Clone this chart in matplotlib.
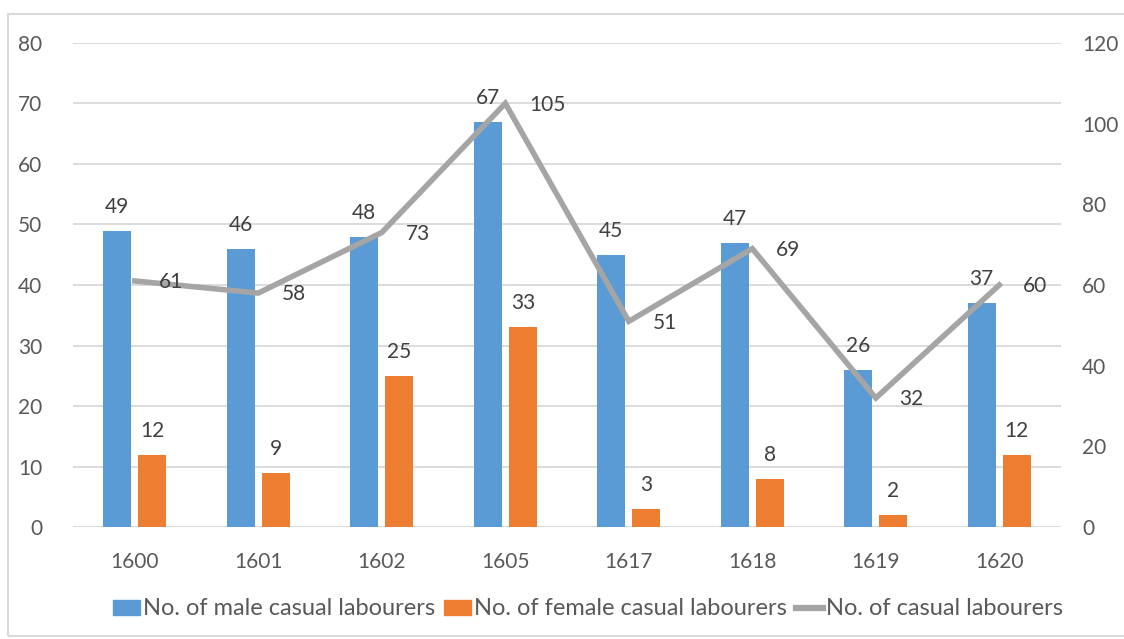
import numpy as np
import matplotlib
matplotlib.use("Agg")
import matplotlib.pyplot as plt
from matplotlib.patches import Rectangle
from matplotlib.lines import Line2D

plt.rcParams['font.family'] = ['Lato', 'DejaVu Sans']

years = ['1600', '1601', '1602', '1605', '1617', '1618', '1619', '1620']
male = [49, 46, 48, 67, 45, 47, 26, 37]
female = [12, 9, 25, 33, 3, 8, 2, 12]
total = [61, 58, 73, 105, 51, 69, 32, 60]

blue = '#5B9BD5'
orange = '#ED7D31'
grey = '#A5A5A5'
tick_col = '#595959'
label_col = '#404040'
grid_col = '#D9D9D9'
fs = 15

fig = plt.figure(figsize=(11.24, 6.39), dpi=100)
ax = fig.add_axes([0.065, 0.175, 0.879, 0.758])
ax2 = ax.twinx()

x = np.arange(len(years))
w = 0.227
off = 0.142

ax.bar(x - off, male, w, color=blue, zorder=2)
ax.bar(x + off, female, w, color=orange, zorder=2)

for xi, v in zip(x, male):
    ax.annotate(str(v), (xi - off, v), xytext=(0, 10), textcoords='offset points',
                ha='center', va='bottom', fontsize=fs, color=label_col)
for xi, v in zip(x, female):
    ax.annotate(str(v), (xi + off, v), xytext=(0, 10), textcoords='offset points',
                ha='center', va='bottom', fontsize=fs, color=label_col)

ax2.plot(x, total, color=grey, lw=4, solid_joinstyle='miter', zorder=3)
for xi, v in zip(x, total):
    ax2.annotate(str(v), (xi, v), xytext=(17, -1), textcoords='offset points',
                 ha='left', va='center', fontsize=fs, color=label_col)

ax.set_xlim(-0.5, len(years) - 0.5)
ax.set_ylim(0, 80)
ax2.set_ylim(0, 120)
ax.set_yticks(range(0, 81, 10))
ax2.set_yticks(range(0, 121, 20))
ax.set_xticks(x)
ax.set_xticklabels(years)

ax.yaxis.grid(True, color=grid_col, lw=1.3)
ax.set_axisbelow(True)
for a in (ax, ax2):
    for s in a.spines.values():
        s.set_visible(False)
    a.tick_params(length=0, labelsize=fs, colors=tick_col)
ax.tick_params(axis='y', pad=22)
ax2.tick_params(axis='y', pad=15)
ax.tick_params(axis='x', pad=18)
# keep the line above the bars
ax2.set_zorder(ax.get_zorder() + 1)
ax2.patch.set_visible(False)

handles = [Rectangle((0, 0), 1, 1, color=blue),
           Rectangle((0, 0), 1, 1, color=orange),
           Line2D([0], [0], color=grey, lw=4.5)]
names = ['No. of male casual labourers', 'No. of female casual labourers',
         'No. of casual labourers']
leg = fig.legend(handles, names, loc='center', bbox_to_anchor=(0.523, 0.047),
                 ncol=3, frameon=False, fontsize=17, handlelength=1.15,
                 handleheight=0.6, handletextpad=0.1, columnspacing=0.4)
for t in leg.get_texts():
    t.set_color(tick_col)

fig.patches.append(Rectangle((0.007, 0.005), 0.998, 0.973, transform=fig.transFigure,
                             fill=False, edgecolor=grid_col, lw=1.5, zorder=-1))

fig.savefig('out.png', dpi=100)
